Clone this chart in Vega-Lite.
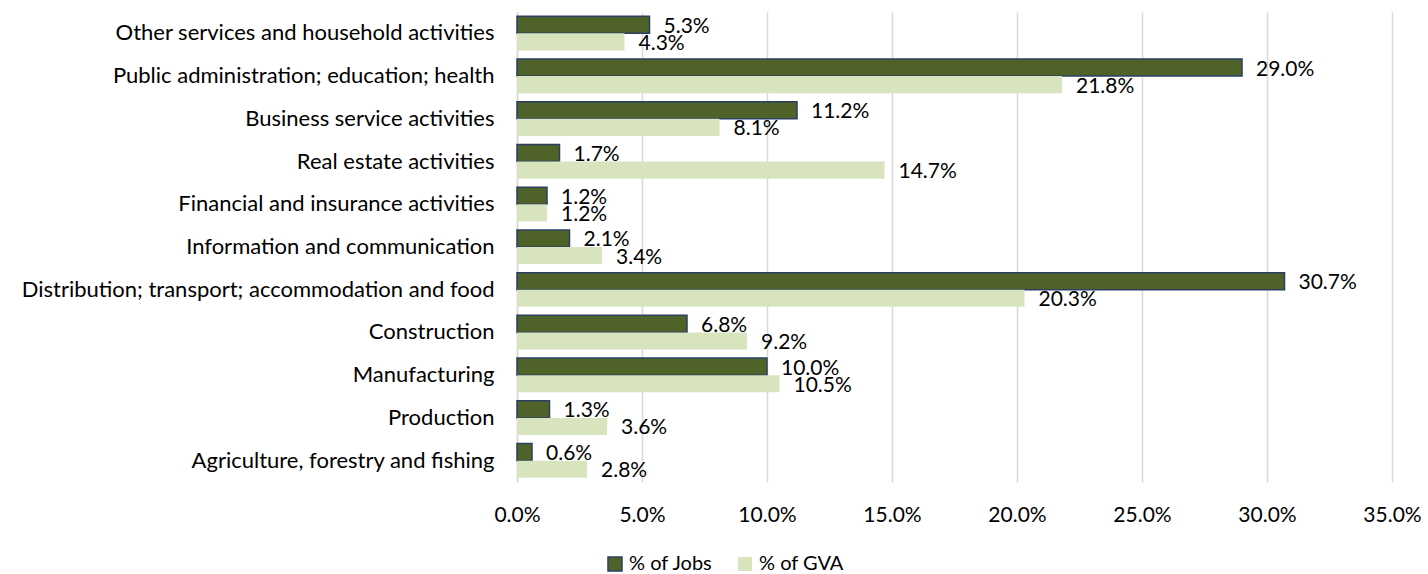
{
  "$schema": "https://vega.github.io/schema/vega-lite/v6.json",
  "width": 875,
  "height": 470,
  "autosize": {"type": "none"},
  "padding": {"left": 517, "top": 12, "right": 36, "bottom": 92},
  "config": {"view": {"stroke": null}, "font": "Lato", "text": {"font": "Lato"}},
  "data": {
    "values": [
      {"category": "Other services and household activities", "series": "% of Jobs", "value": 0.053},
      {"category": "Other services and household activities", "series": "% of GVA", "value": 0.043},
      {"category": "Public administration; education; health\u00a0", "series": "% of Jobs", "value": 0.290},
      {"category": "Public administration; education; health\u00a0", "series": "% of GVA", "value": 0.218},
      {"category": "Business service activities", "series": "% of Jobs", "value": 0.112},
      {"category": "Business service activities", "series": "% of GVA", "value": 0.081},
      {"category": "Real estate activities", "series": "% of Jobs", "value": 0.017},
      {"category": "Real estate activities", "series": "% of GVA", "value": 0.147},
      {"category": "Financial and insurance activities", "series": "% of Jobs", "value": 0.012},
      {"category": "Financial and insurance activities", "series": "% of GVA", "value": 0.012},
      {"category": "Information and communication", "series": "% of Jobs", "value": 0.021},
      {"category": "Information and communication", "series": "% of GVA", "value": 0.034},
      {"category": "Distribution; transport; accommodation and food", "series": "% of Jobs", "value": 0.307},
      {"category": "Distribution; transport; accommodation and food", "series": "% of GVA", "value": 0.203},
      {"category": "Construction", "series": "% of Jobs", "value": 0.068},
      {"category": "Construction", "series": "% of GVA", "value": 0.092},
      {"category": "Manufacturing", "series": "% of Jobs", "value": 0.100},
      {"category": "Manufacturing", "series": "% of GVA", "value": 0.105},
      {"category": "Production", "series": "% of Jobs", "value": 0.013},
      {"category": "Production", "series": "% of GVA", "value": 0.036},
      {"category": "Agriculture, forestry and fishing", "series": "% of Jobs", "value": 0.006},
      {"category": "Agriculture, forestry and fishing", "series": "% of GVA", "value": 0.028}
    ]
  },
  "encoding": {
    "y": {
      "field": "category",
      "type": "nominal",
      "sort": null,
      "scale": {"paddingInner": 0.2, "paddingOuter": 0.1},
      "axis": {
        "title": null,
        "domain": true,
        "domainColor": "#D9D9D9",
        "domainWidth": 1.5,
        "ticks": false,
        "grid": false,
        "labelPadding": 23,
        "labelFontSize": 22,
        "labelColor": "#000000",
        "labelLimit": 600
      }
    },
    "yOffset": {
      "field": "series",
      "type": "nominal",
      "sort": ["% of Jobs", "% of GVA"],
      "scale": {"paddingInner": 0, "paddingOuter": 0}
    },
    "x": {
      "field": "value",
      "type": "quantitative",
      "scale": {"domain": [0, 0.35], "nice": false},
      "axis": {
        "title": null,
        "format": ".1%",
        "values": [0, 0.05, 0.1, 0.15, 0.2, 0.25, 0.3, 0.35],
        "grid": true,
        "gridColor": "#D9D9D9",
        "gridWidth": 1.5,
        "domain": false,
        "ticks": false,
        "labelFlush": false,
        "labelOverlap": false,
        "labelPadding": 22,
        "labelFontSize": 21,
        "labelColor": "#000000"
      }
    }
  },
  "layer": [
    {
      "mark": {"type": "bar", "strokeWidth": 1.5},
      "encoding": {
        "color": {
          "field": "series",
          "type": "nominal",
          "scale": {"domain": ["% of Jobs", "% of GVA"], "range": ["#4F6228", "#D7E4BD"]},
          "legend": {
            "orient": "none",
            "legendX": 88,
            "legendY": 542,
            "direction": "horizontal",
            "title": null,
            "symbolType": "square",
            "symbolSize": 196,
            "symbolStrokeWidth": 1.5,
            "labelFontSize": 20,
            "labelColor": "#000000",
            "labelOffset": 4,
            "columnPadding": 22
          }
        },
        "stroke": {
          "field": "series",
          "type": "nominal",
          "scale": {"domain": ["% of Jobs", "% of GVA"], "range": ["#2B3F63", "rgba(0,0,0,0)"]}
        }
      }
    },
    {
      "mark": {"type": "text", "align": "left", "baseline": "middle", "dx": 14, "dy": 2, "fontSize": 21, "color": "#000000"},
      "encoding": {
        "text": {"field": "value", "type": "quantitative", "format": ".1%"}
      }
    }
  ]
}
